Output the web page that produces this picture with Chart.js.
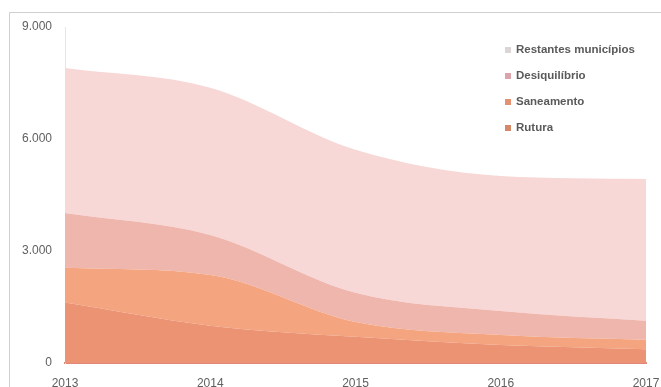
<!DOCTYPE html>
<html>
<head>
<meta charset="utf-8">
<script src="https://cdn.jsdelivr.net/npm/chart.js@4.4.1/dist/chart.umd.min.js"></script>
<style>
  html, body { margin: 0; padding: 0; background: #ffffff; }
  #wrap { width: 661px; height: 387px; position: relative; }
  canvas { display: block; }
</style>
</head>
<body>
<div id="wrap"><canvas id="c" width="661" height="387"></canvas></div>
<script>
// Categories (years) and series values, from bottom layer to top layer
const years = ['2013', '2014', '2015', '2016', '2017'];
const rutura = [1620, 1000, 700, 480, 370];
const saneamento = [930, 1360, 400, 270, 250];
const desequilibrio = [1470, 1070, 780, 640, 510];
const restantes = [3880, 3940, 3830, 3620, 3800];
const yTicks = [0, 3000, 6000, 9000];

const FONT = '"Liberation Sans", Arial, sans-serif';

// Legend drawn inside the plot, top-right, with the top layer listed first
const insideLegend = {
  id: 'insideLegend',
  afterDraw(chart) {
    const ctx = chart.ctx;
    const sets = chart.data.datasets.slice().reverse();
    ctx.save();
    ctx.font = '600 11.5px ' + FONT;
    ctx.textBaseline = 'middle';
    ctx.textAlign = 'left';
    sets.forEach((ds, i) => {
      const y = 50 + i * 26;
      ctx.fillStyle = ds.swatch;
      ctx.fillRect(505, y - 3, 6, 6);
      ctx.fillStyle = '#5a5a5a';
      ctx.fillText(ds.label, 516, y);
    });
    ctx.restore();
  }
};

// Thin frame around the figure (top and left edges)
const frame = {
  id: 'frame',
  beforeDraw(chart) {
    const ctx = chart.ctx;
    ctx.save();
    ctx.strokeStyle = '#cfcfcf';
    ctx.lineWidth = 1;
    ctx.beginPath();
    ctx.moveTo(9.5, 387);
    ctx.lineTo(9.5, 12.5);
    ctx.lineTo(661, 12.5);
    ctx.stroke();
    ctx.restore();
  }
};

function layer(label, data, color, swatch, fill) {
  return {
    label, data, fill,
    backgroundColor: color,
    borderColor: color,
    borderWidth: 0,
    pointRadius: 0,
    pointHoverRadius: 0,
    cubicInterpolationMode: 'monotone',
    swatch
  };
}

new Chart(document.getElementById('c'), {
  type: 'line',
  data: {
    labels: years,
    datasets: [
      layer('Rutura', rutura, '#ec9373', '#d4896b', 'origin'),
      layer('Saneamento', saneamento, '#f4a47f', '#e39171', '-1'),
      layer('Desiquilíbrio', desequilibrio, '#efb6ae', '#dba4ab', '-1'),
      layer('Restantes municípios', restantes, '#f7d8d6', '#dcd5d5', '-1')
    ]
  },
  options: {
    responsive: false,
    animation: false,
    devicePixelRatio: 1,
    layout: { padding: { top: 27, right: 15, left: 0, bottom: 0 } },
    plugins: {
      legend: { display: false },
      tooltip: { enabled: false }
    },
    scales: {
      x: {
        type: 'category',
        offset: false,
        grid: { display: false, drawTicks: false },
        border: { display: true, color: '#e2887a', width: 2 },
        ticks: {
          color: '#606060',
          font: { family: FONT, size: 12 },
          padding: 13,
          maxRotation: 0,
          autoSkip: false
        },
        afterFit(scale) {
          scale.height = 24;
          scale.paddingLeft = 0;
          scale.paddingRight = 0;
        }
      },
      y: {
        stacked: true,
        min: 0,
        max: 9000,
        grid: { display: false, drawTicks: false },
        border: { display: true, color: '#e6e6e6', width: 1 },
        afterBuildTicks(scale) {
          scale.ticks = yTicks.map(v => ({ value: v }));
        },
        ticks: {
          color: '#606060',
          font: { family: FONT, size: 12 },
          padding: 13,
          callback: v => v === 0 ? '0' : v.toLocaleString('de-DE')
        },
        afterFit(scale) {
          scale.width = 65;
          scale.paddingTop = 0;
          scale.paddingBottom = 0;
        }
      }
    }
  },
  plugins: [frame, insideLegend]
});
</script>
</body>
</html>
